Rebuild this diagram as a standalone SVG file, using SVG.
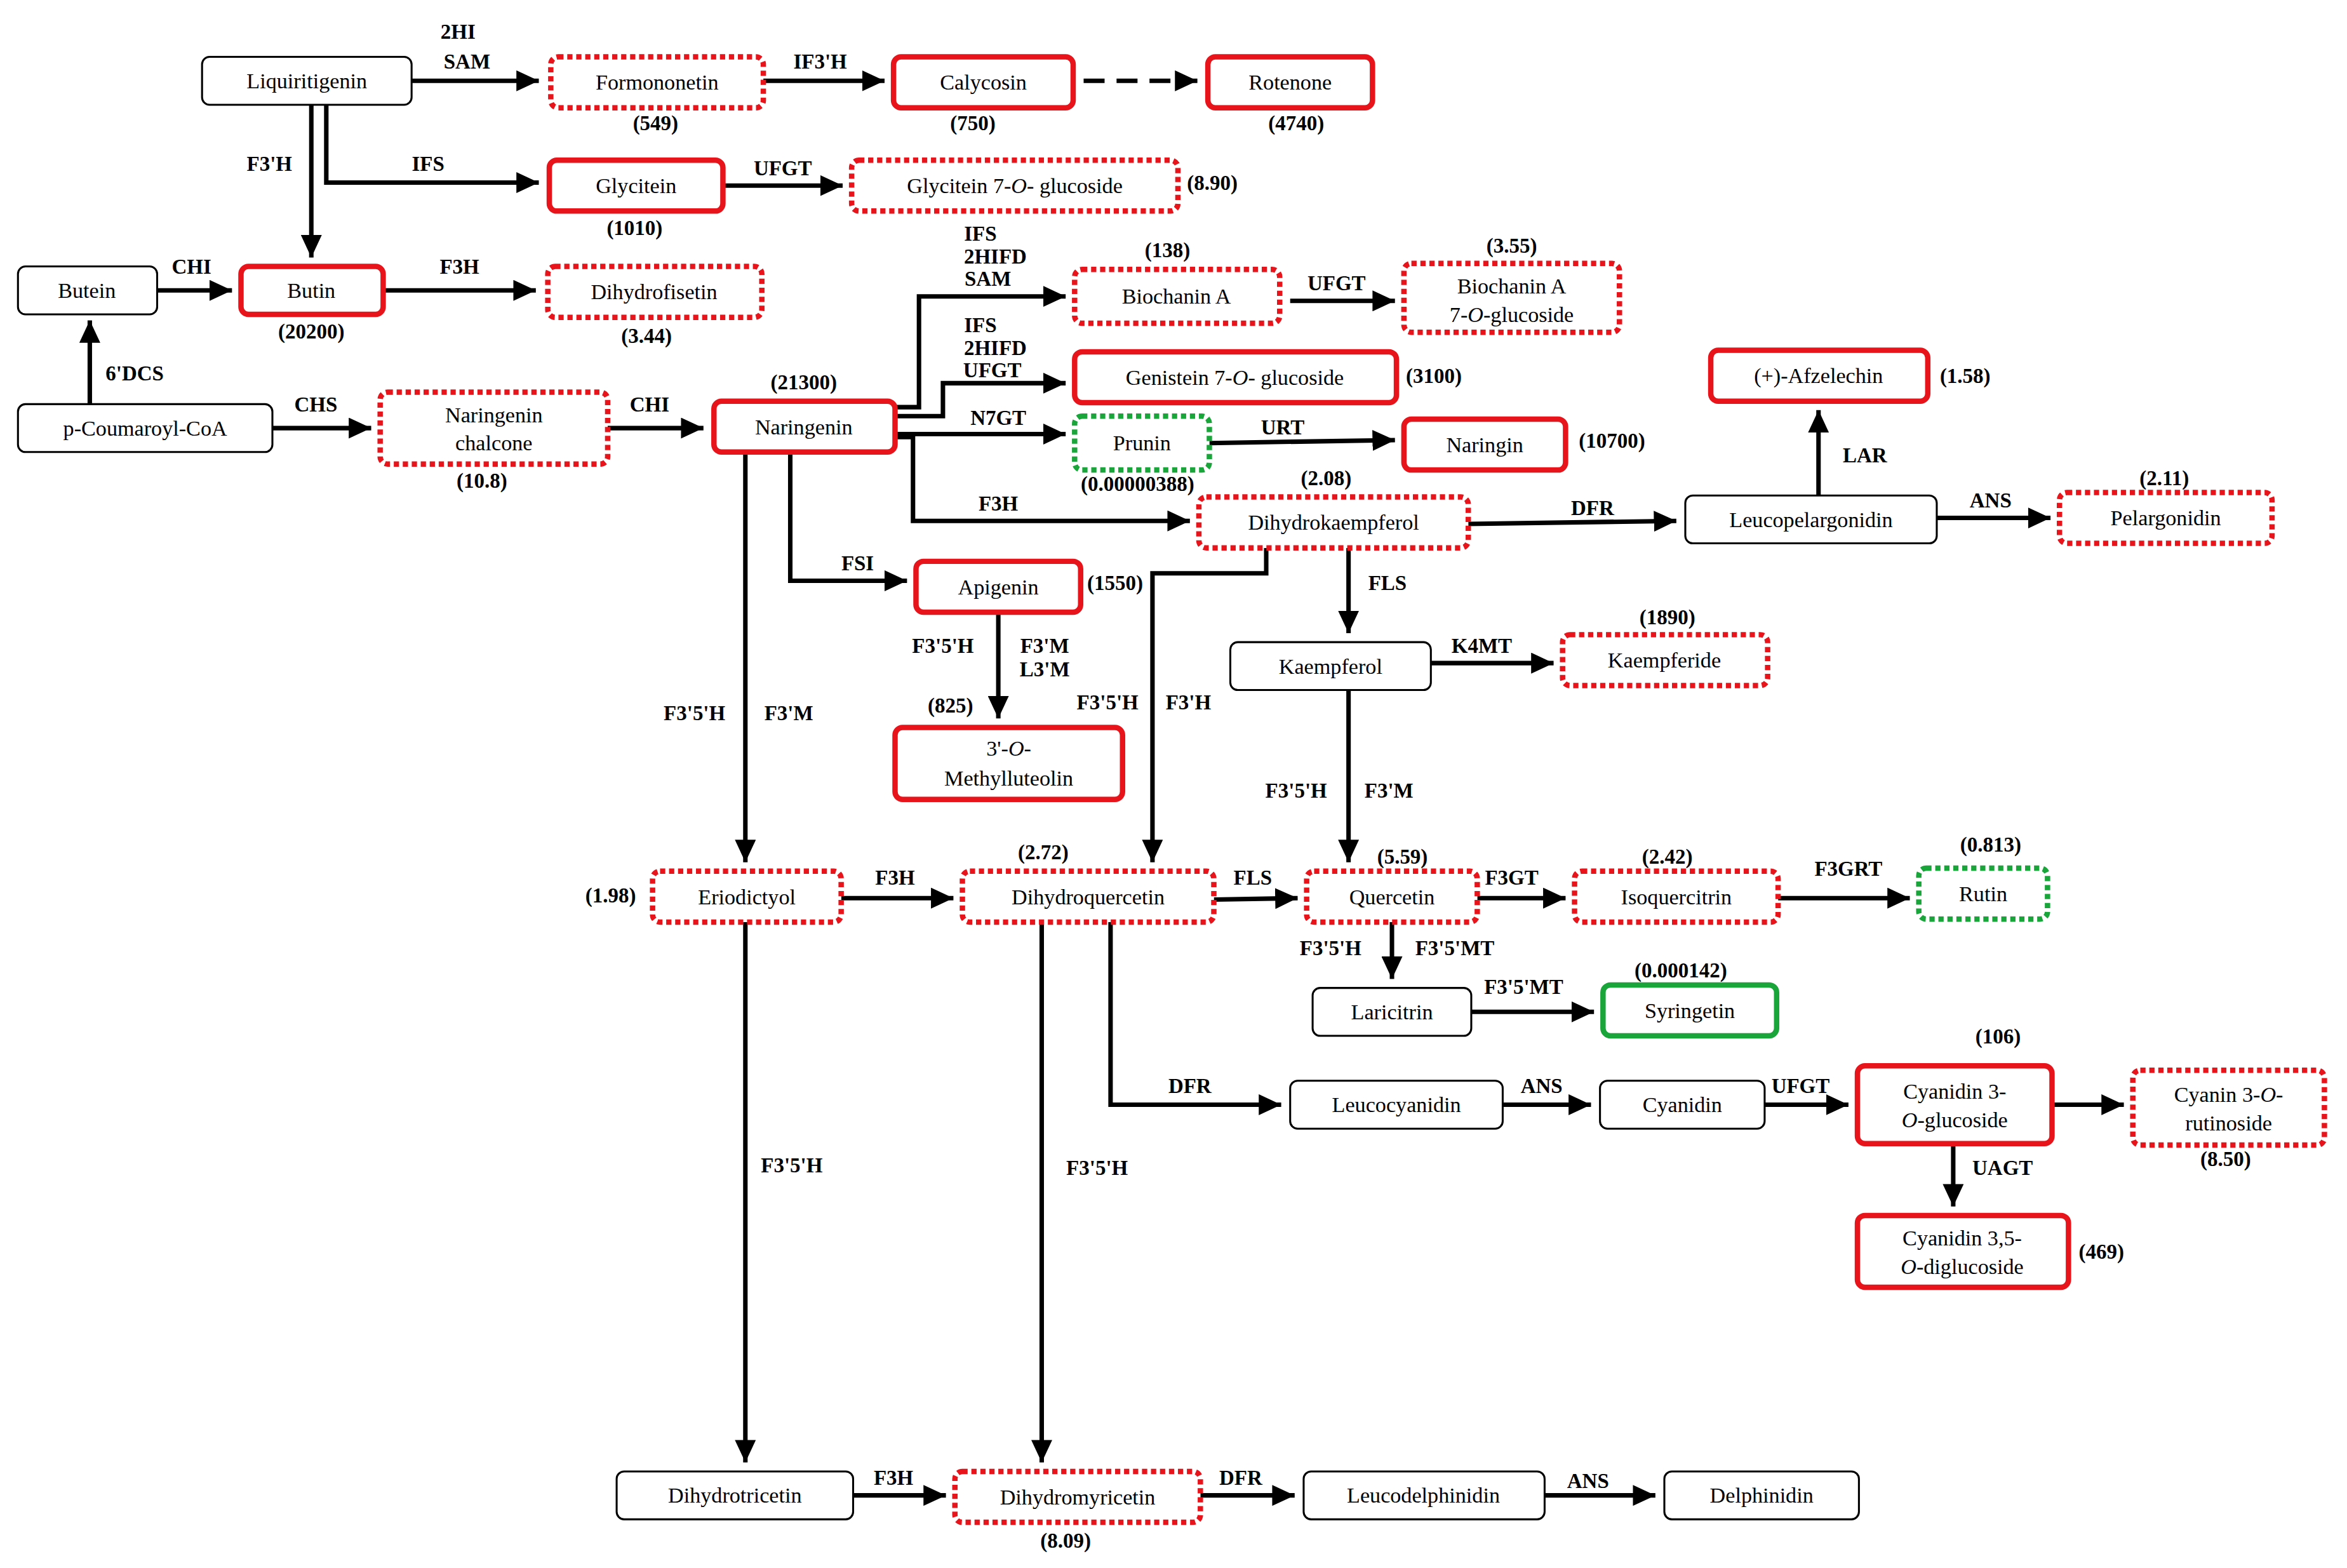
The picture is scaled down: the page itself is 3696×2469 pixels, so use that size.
<svg xmlns="http://www.w3.org/2000/svg" width="3696" height="2469" viewBox="0 0 3696 2469">
<style>
.b{fill:#fff;stroke:#000;stroke-width:1.3}
.r{fill:#fff;stroke:#e8141b;stroke-width:3.6}
.rd{fill:#fff;stroke:#e8141b;stroke-width:3.6;stroke-dasharray:3.5 2.5}
.g{fill:#fff;stroke:#19a53a;stroke-width:3.6}
.gd{fill:#fff;stroke:#19a53a;stroke-width:3.6;stroke-dasharray:3.5 2.5}
text{font-family:"Liberation Serif","Times New Roman",serif;font-size:14.5px;fill:#000}
.t{text-anchor:middle}
.l{font-weight:bold;font-size:14px;text-anchor:middle}
.n{font-weight:bold;font-size:14px;text-anchor:middle}
.c path{fill:none;stroke:#000;stroke-width:3}
</style>
<defs>
<marker id="a" markerUnits="userSpaceOnUse" markerWidth="16" markerHeight="14" refX="15" refY="7" orient="auto"><path d="M0,0 L15,7 L0,14 Z" fill="#000"/></marker>
</defs>
<rect width="3696" height="2469" fill="#fff"/>
<g transform="scale(2.357)">
<g class="c">
<path d="M275,54H360" marker-end="url(#a)"/>
<path d="M510,54H591" marker-end="url(#a)"/>
<path d="M724,54H800" stroke-dasharray="14 8" marker-end="url(#a)"/>
<path d="M218,70V122H360" marker-end="url(#a)"/>
<path d="M208,70V172" marker-end="url(#a)"/>
<path d="M483,124H563" marker-end="url(#a)"/>
<path d="M105,194H155" marker-end="url(#a)"/>
<path d="M256,194H358" marker-end="url(#a)"/>
<path d="M60,270V214" marker-end="url(#a)"/>
<path d="M182,286H248" marker-end="url(#a)"/>
<path d="M406,286H470" marker-end="url(#a)"/>
<path d="M598,272H614V198H712" marker-end="url(#a)"/>
<path d="M598,278H630V256H712" marker-end="url(#a)"/>
<path d="M598,290H712" marker-end="url(#a)"/>
<path d="M808,296L932,294" marker-end="url(#a)"/>
<path d="M598,292H610V348H795" marker-end="url(#a)"/>
<path d="M528,302V388H606" marker-end="url(#a)"/>
<path d="M498,302V576" marker-end="url(#a)"/>
<path d="M862,201H932" marker-end="url(#a)"/>
<path d="M981,350L1120,348" marker-end="url(#a)"/>
<path d="M1215,331V274" marker-end="url(#a)"/>
<path d="M1294,346H1370" marker-end="url(#a)"/>
<path d="M901,366V423" marker-end="url(#a)"/>
<path d="M846,366V383H770V576" marker-end="url(#a)"/>
<path d="M667,409V480" marker-end="url(#a)"/>
<path d="M956,443H1038" marker-end="url(#a)"/>
<path d="M901,461V576" marker-end="url(#a)"/>
<path d="M562,600H637" marker-end="url(#a)"/>
<path d="M811,601L867,600" marker-end="url(#a)"/>
<path d="M987,600H1046" marker-end="url(#a)"/>
<path d="M1188,600H1276" marker-end="url(#a)"/>
<path d="M930,616V654" marker-end="url(#a)"/>
<path d="M983,676H1065" marker-end="url(#a)"/>
<path d="M742,616V738H856" marker-end="url(#a)"/>
<path d="M1004,738H1063" marker-end="url(#a)"/>
<path d="M1179,738H1235" marker-end="url(#a)"/>
<path d="M1371,738H1419" marker-end="url(#a)"/>
<path d="M1305,764V806" marker-end="url(#a)"/>
<path d="M498,616V977" marker-end="url(#a)"/>
<path d="M696,616V977" marker-end="url(#a)"/>
<path d="M570,999H632" marker-end="url(#a)"/>
<path d="M802,999H865" marker-end="url(#a)"/>
<path d="M1032,999H1106" marker-end="url(#a)"/>
</g>
<g id="labels">
<text class="l" x="306" y="26">2HI</text><text class="l" x="312" y="46">SAM</text>
<text class="l" x="548" y="46">IF3'H</text>
<text class="l" x="286" y="114">IFS</text>
<text class="l" x="180" y="114">F3'H</text>
<text class="l" x="523" y="117">UFGT</text>
<text class="l" x="128" y="183">CHI</text>
<text class="l" x="307" y="183">F3H</text>
<text class="l" x="90" y="254">6'DCS</text>
<text class="l" x="211" y="275">CHS</text>
<text class="l" x="434" y="275">CHI</text>
<text class="l" x="655" y="161">IFS</text><text class="l" x="665" y="176">2HIFD</text><text class="l" x="660" y="191">SAM</text>
<text class="l" x="655" y="222">IFS</text><text class="l" x="665" y="237">2HIFD</text><text class="l" x="663" y="252">UFGT</text>
<text class="l" x="667" y="284">N7GT</text>
<text class="l" x="857" y="290">URT</text>
<text class="l" x="667" y="341">F3H</text>
<text class="l" x="573" y="381">FSI</text>
<text class="l" x="464" y="481">F3'5'H</text><text class="l" x="527" y="481">F3'M</text>
<text class="l" x="893" y="194">UFGT</text>
<text class="l" x="1064" y="344">DFR</text>
<text class="l" x="1246" y="309">LAR</text>
<text class="l" x="1330" y="339">ANS</text>
<text class="l" x="927" y="394">FLS</text>
<text class="l" x="740" y="474">F3'5'H</text><text class="l" x="794" y="474">F3'H</text>
<text class="l" x="630" y="436">F3'5'H</text><text class="l" x="698" y="436">F3'M</text><text class="l" x="698" y="452">L3'M</text>
<text class="l" x="990" y="436">K4MT</text>
<text class="l" x="866" y="533">F3'5'H</text><text class="l" x="928" y="533">F3'M</text>
<text class="l" x="598" y="591">F3H</text>
<text class="l" x="837" y="591">FLS</text>
<text class="l" x="1010" y="591">F3GT</text>
<text class="l" x="1235" y="585">F3GRT</text>
<text class="l" x="889" y="638">F3'5'H</text><text class="l" x="972" y="638">F3'5'MT</text>
<text class="l" x="1018" y="664">F3'5'MT</text>
<text class="l" x="795" y="730">DFR</text>
<text class="l" x="1030" y="730">ANS</text>
<text class="l" x="1203" y="730">UFGT</text>
<text class="l" x="1338" y="785">UAGT</text>
<text class="l" x="529" y="783">F3'5'H</text>
<text class="l" x="733" y="785">F3'5'H</text>
<text class="l" x="597" y="992">F3H</text>
<text class="l" x="829" y="992">DFR</text>
<text class="l" x="1061" y="994">ANS</text>
</g>
<g id="liquiritigenin"><rect class="b" x="135" y="38" width="140" height="32" rx="5"/><text class="t" x="205" y="59">Liquiritigenin</text></g>
<g id="formononetin"><rect class="rd" x="368" y="38" width="142" height="34" rx="5"/><text class="t" x="439" y="60">Formononetin</text><text class="n" x="438" y="87">(549)</text></g>
<g id="calycosin"><rect class="r" x="597" y="38" width="120" height="34" rx="5"/><text class="t" x="657" y="60">Calycosin</text><text class="n" x="650" y="87">(750)</text></g>
<g id="rotenone"><rect class="r" x="807" y="38" width="110" height="34" rx="5"/><text class="t" x="862" y="60">Rotenone</text><text class="n" x="866" y="87">(4740)</text></g>
<g id="glycitein"><rect class="r" x="367" y="107" width="116" height="34" rx="5"/><text class="t" x="425" y="129">Glycitein</text><text class="n" x="424" y="157">(1010)</text></g>
<g id="glycitein7"><rect class="rd" x="569" y="107" width="218" height="34" rx="5"/><text class="t" x="678" y="129">Glycitein 7-<tspan font-style="italic">O</tspan>- glucoside</text><text class="n" x="810" y="127">(8.90)</text></g>
<g id="butein"><rect class="b" x="12" y="178" width="93" height="32" rx="5"/><text class="t" x="58" y="199">Butein</text></g>
<g id="butin"><rect class="r" x="161" y="178" width="95" height="32" rx="5"/><text class="t" x="208" y="199">Butin</text><text class="n" x="208" y="226">(20200)</text></g>
<g id="dihydrofisetin"><rect class="rd" x="366" y="178" width="143" height="34" rx="5"/><text class="t" x="437" y="200">Dihydrofisetin</text><text class="n" x="432" y="229">(3.44)</text></g>
<g id="coumaroyl"><rect class="b" x="12" y="270" width="170" height="32" rx="5"/><text class="t" x="97" y="291">p-Coumaroyl-CoA</text></g>
<g id="chalcone"><rect class="rd" x="254" y="262" width="152" height="48" rx="5"/><text class="t" x="330" y="282">Naringenin</text><text class="t" x="330" y="301">chalcone</text><text class="n" x="322" y="326">(10.8)</text></g>
<g id="naringenin"><rect class="r" x="477" y="268" width="121" height="34" rx="5"/><text class="t" x="537" y="290">Naringenin</text><text class="n" x="537" y="260">(21300)</text></g>
<g id="biochanin"><rect class="rd" x="718" y="180" width="137" height="36" rx="5"/><text class="t" x="786" y="203">Biochanin A</text><text class="n" x="780" y="172">(138)</text></g>
<g id="biochanin7"><rect class="rd" x="938" y="176" width="144" height="46" rx="5"/><text class="t" x="1010" y="196">Biochanin A</text><text class="t" x="1010" y="215">7-<tspan font-style="italic">O</tspan>-glucoside</text><text class="n" x="1010" y="169">(3.55)</text></g>
<g id="genistein7"><rect class="r" x="718" y="235" width="215" height="34" rx="5"/><text class="t" x="825" y="257">Genistein 7-<tspan font-style="italic">O</tspan>- glucoside</text><text class="n" x="958" y="256">(3100)</text></g>
<g id="prunin"><rect class="gd" x="718" y="278" width="90" height="36" rx="5"/><text class="t" x="763" y="301">Prunin</text><text class="n" x="760" y="328">(0.00000388)</text></g>
<g id="naringin"><rect class="r" x="938" y="280" width="108" height="34" rx="5"/><text class="t" x="992" y="302">Naringin</text><text class="n" x="1077" y="299">(10700)</text></g>
<g id="afzelechin"><rect class="r" x="1143" y="234" width="145" height="34" rx="5"/><text class="t" x="1215" y="256">(+)-Afzelechin</text><text class="n" x="1313" y="256">(1.58)</text></g>
<g id="leucopelargonidin"><rect class="b" x="1126" y="331" width="168" height="32" rx="5"/><text class="t" x="1210" y="352">Leucopelargonidin</text></g>
<g id="pelargonidin"><rect class="rd" x="1376" y="329" width="142" height="34" rx="5"/><text class="t" x="1447" y="351">Pelargonidin</text><text class="n" x="1446" y="324">(2.11)</text></g>
<g id="dihydrokaempferol"><rect class="rd" x="801" y="332" width="180" height="34" rx="5"/><text class="t" x="891" y="354">Dihydrokaempferol</text><text class="n" x="886" y="324">(2.08)</text></g>
<g id="apigenin"><rect class="r" x="612" y="375" width="110" height="34" rx="5"/><text class="t" x="667" y="397">Apigenin</text><text class="n" x="745" y="394">(1550)</text></g>
<g id="kaempferol"><rect class="b" x="822" y="429" width="134" height="32" rx="5"/><text class="t" x="889" y="450">Kaempferol</text></g>
<g id="kaempferide"><rect class="rd" x="1044" y="424" width="137" height="34" rx="5"/><text class="t" x="1112" y="446">Kaempferide</text><text class="n" x="1114" y="417">(1890)</text></g>
<g id="methylluteolin"><rect class="r" x="598" y="486" width="152" height="48" rx="5"/><text class="t" x="674" y="505">3'-<tspan font-style="italic">O</tspan>-</text><text class="t" x="674" y="525">Methylluteolin</text><text class="n" x="635" y="476">(825)</text></g>
<g id="eriodictyol"><rect class="rd" x="436" y="582" width="126" height="34" rx="5"/><text class="t" x="499" y="604">Eriodictyol</text><text class="n" x="408" y="603">(1.98)</text></g>
<g id="dihydroquercetin"><rect class="rd" x="643" y="582" width="168" height="34" rx="5"/><text class="t" x="727" y="604">Dihydroquercetin</text><text class="n" x="697" y="574">(2.72)</text></g>
<g id="quercetin"><rect class="rd" x="873" y="582" width="114" height="34" rx="5"/><text class="t" x="930" y="604">Quercetin</text><text class="n" x="937" y="577">(5.59)</text></g>
<g id="isoquercitrin"><rect class="rd" x="1052" y="582" width="136" height="34" rx="5"/><text class="t" x="1120" y="604">Isoquercitrin</text><text class="n" x="1114" y="577">(2.42)</text></g>
<g id="rutin"><rect class="gd" x="1282" y="580" width="86" height="34" rx="5"/><text class="t" x="1325" y="602">Rutin</text><text class="n" x="1330" y="569">(0.813)</text></g>
<g id="laricitrin"><rect class="b" x="877" y="660" width="106" height="32" rx="5"/><text class="t" x="930" y="681">Laricitrin</text></g>
<g id="syringetin"><rect class="g" x="1071" y="658" width="116" height="34" rx="5"/><text class="t" x="1129" y="680">Syringetin</text><text class="n" x="1123" y="653">(0.000142)</text></g>
<g id="leucocyanidin"><rect class="b" x="862" y="722" width="142" height="32" rx="5"/><text class="t" x="933" y="743">Leucocyanidin</text></g>
<g id="cyanidin"><rect class="b" x="1069" y="722" width="110" height="32" rx="5"/><text class="t" x="1124" y="743">Cyanidin</text></g>
<g id="cyanidin3"><rect class="r" x="1241" y="712" width="130" height="52" rx="5"/><text class="t" x="1306" y="734">Cyanidin 3-</text><text class="t" x="1306" y="753"><tspan font-style="italic">O</tspan>-glucoside</text><text class="n" x="1335" y="697">(106)</text></g>
<g id="cyanin"><rect class="rd" x="1425" y="715" width="128" height="50" rx="5"/><text class="t" x="1489" y="736">Cyanin 3-<tspan font-style="italic">O</tspan>-</text><text class="t" x="1489" y="755">rutinoside</text><text class="n" x="1487" y="779">(8.50)</text></g>
<g id="cyanidin35"><rect class="r" x="1241" y="812" width="141" height="48" rx="5"/><text class="t" x="1311" y="832">Cyanidin 3,5-</text><text class="t" x="1311" y="851"><tspan font-style="italic">O</tspan>-diglucoside</text><text class="n" x="1404" y="841">(469)</text></g>
<g id="dihydrotricetin"><rect class="b" x="412" y="983" width="158" height="32" rx="5"/><text class="t" x="491" y="1004">Dihydrotricetin</text></g>
<g id="dihydromyricetin"><rect class="rd" x="638" y="983" width="164" height="34" rx="5"/><text class="t" x="720" y="1005">Dihydromyricetin</text><text class="n" x="712" y="1034">(8.09)</text></g>
<g id="leucodelphinidin"><rect class="b" x="871" y="983" width="161" height="32" rx="5"/><text class="t" x="951" y="1004">Leucodelphinidin</text></g>
<g id="delphinidin"><rect class="b" x="1112" y="983" width="130" height="32" rx="5"/><text class="t" x="1177" y="1004">Delphinidin</text></g>
</g>
</svg>
